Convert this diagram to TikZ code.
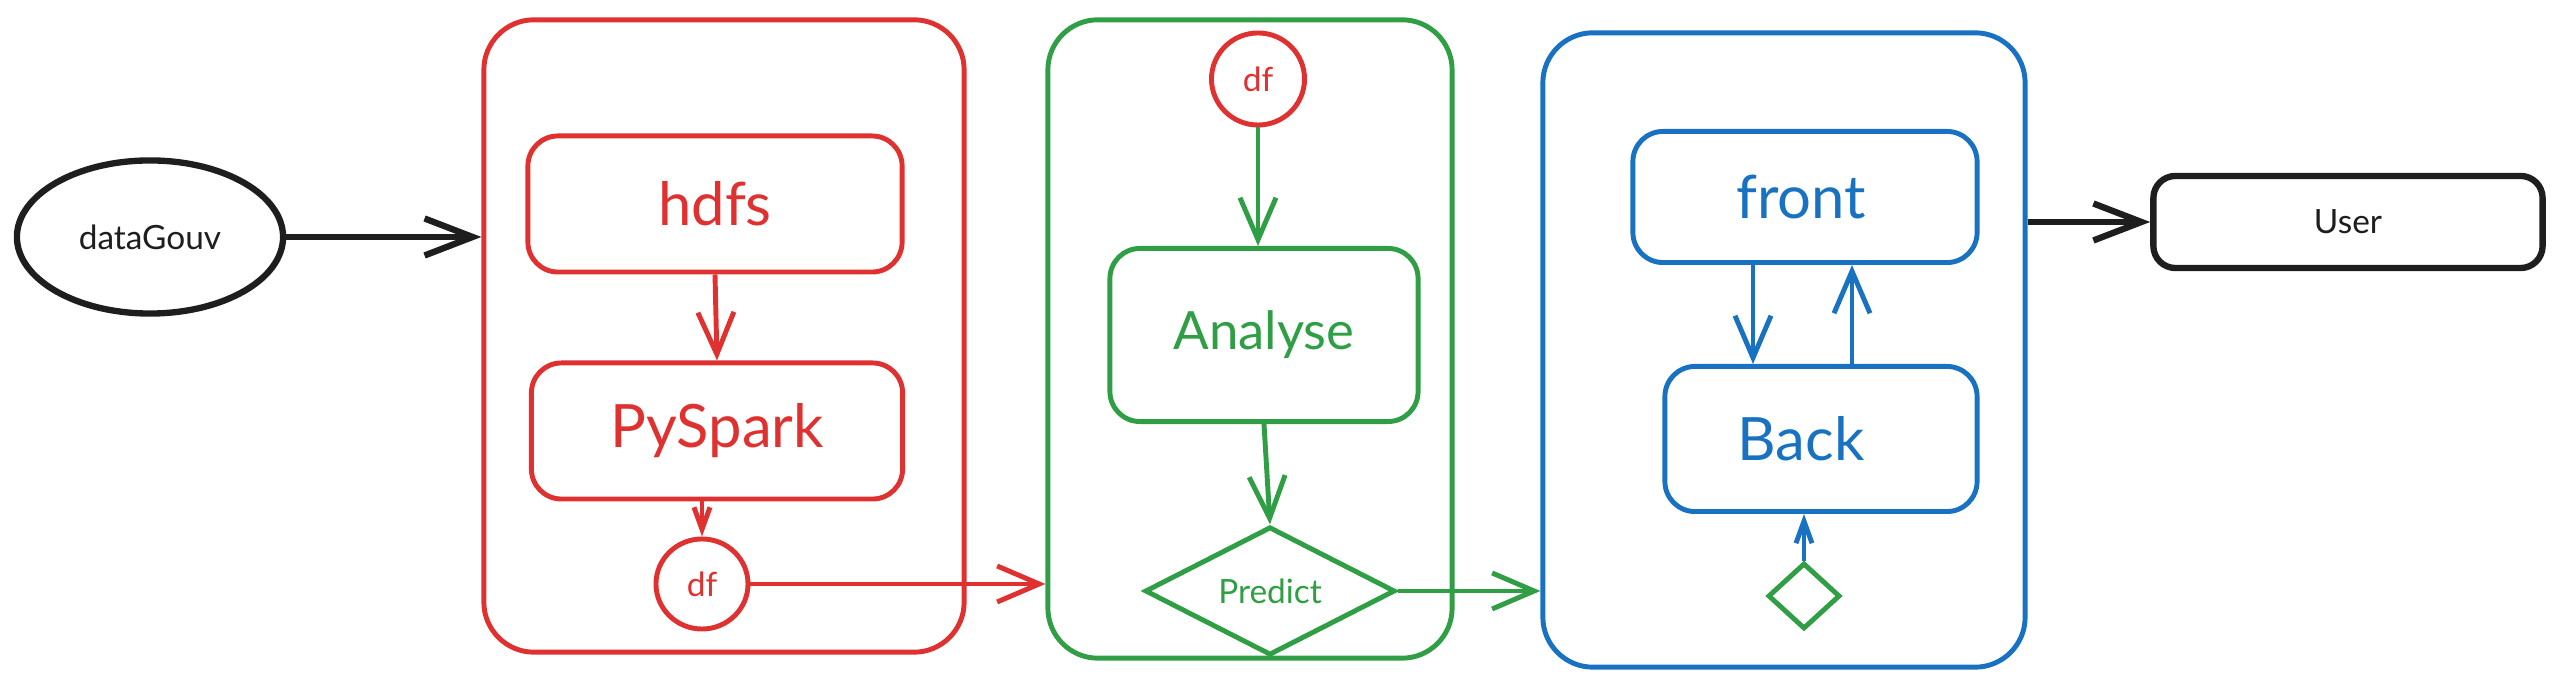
\documentclass[tikz,border=0pt]{standalone}
\usepackage{fontspec}
\setmainfont{Lato}
\usetikzlibrary{arrows.meta,shapes.geometric,calc}
\definecolor{exred}{HTML}{E03131}
\definecolor{exgreen}{HTML}{2F9E44}
\definecolor{exblue}{HTML}{1971C2}
\definecolor{exblack}{HTML}{1E1E1E}
\begin{document}
\begin{tikzpicture}[x=0.01cm,y=-0.01cm,
  outerbox/.style={draw, line width=1.4pt, rounded corners=0.5cm, inner sep=0pt},
  innerbox/.style={draw, line width=1.4pt, rounded corners=0.3cm, inner sep=0pt},
  blackbox/.style={draw=exblack, text=exblack, line width=1.8pt, inner sep=0pt},
  bigtext/.style={font=\fontsize{17}{20}\selectfont},
  midtext/.style={font=\fontsize{15}{18}\selectfont},
  smalltext/.style={font=\fontsize{9.5}{11}\selectfont},
  dfnode/.style={draw=exred, text=exred, ellipse, line width=1.4pt, inner sep=0pt, smalltext},
  arr/.style={line width=1.4pt, -{Straight Barb[length=0.42cm,width=0.36cm]}},
  smallarr/.style={line width=1.4pt, -{Straight Barb[length=0.22cm,width=0.16cm]}},
  blackarr/.style={draw=exblack, line width=1.8pt, -{Straight Barb[length=0.48cm,width=0.37cm]}}
]
\useasboundingbox (0,0) rectangle (2562,686);

% outer containers
\node[outerbox, draw=exred, minimum width=4.8cm, minimum height=6.32cm] (red) at (724,336) {};
\node[outerbox, draw=exgreen, minimum width=4.04cm, minimum height=6.38cm] (green) at (1250,339) {};
\node[outerbox, draw=exblue, minimum width=4.82cm, minimum height=6.34cm] (blue) at (1784,350) {};

% left and right
\node[blackbox, ellipse, minimum width=2.66cm, minimum height=1.53cm, smalltext] (dg) at (150,237) {dataGouv};
\node[blackbox, rounded corners=0.22cm, minimum width=3.89cm, minimum height=0.92cm, smalltext] (user) at (2348,222) {User};

% red container
\node[innerbox, draw=exred, text=exred, minimum width=3.74cm, minimum height=1.36cm, bigtext] (hdfs) at (715,204) {hdfs};
\node[innerbox, draw=exred, text=exred, minimum width=3.71cm, minimum height=1.36cm, bigtext] (spark) at (717,431) {PySpark};
\node[dfnode, minimum width=0.92cm, minimum height=0.90cm] (df1) at (702,584) {df};

% green container
\node[dfnode, minimum width=0.93cm, minimum height=0.92cm] (df2) at (1258,79) {df};
\node[innerbox, draw=exgreen, text=exgreen, minimum width=3.08cm, minimum height=1.73cm, midtext] (analyse) at (1264,335) {Analyse};
\node[draw=exgreen, text=exgreen, diamond, line width=1.4pt, inner sep=0pt, minimum width=2.5cm, minimum height=1.14cm, smalltext] (predict) at (1270,591) {Predict};

% blue container
\node[innerbox, draw=exblue, minimum width=3.44cm, minimum height=1.31cm] (front) at (1805,197) {};
\node[text=exblue, bigtext] (frontlabel) at (1801,197) {front};
\node[innerbox, draw=exblue, minimum width=3.12cm, minimum height=1.45cm] (back) at (1821,439) {};
\node[text=exblue, bigtext] (backlabel) at (1801,439) {Back};
\node[draw=exgreen, diamond, line width=1.4pt, inner sep=0pt, minimum width=0.72cm, minimum height=0.66cm] (sd) at (1804,596) {};

% connectors
\draw[blackarr] (dg.east) -- (dg.east -| red.west);
\draw[arr, exred] (hdfs.south) -- (spark.north);
\draw[smallarr, exred] (spark.south -| df1.north) -- (df1.north);
\draw[arr, exred] (df1.east) -- (df1.east -| green.west);
\draw[arr, exgreen] (df2.south) -- (df2.south |- analyse.north);
\draw[arr, exgreen] (analyse.south) -- (predict.north);
\draw[arr, exgreen] (predict.east) -- (predict.east -| blue.west);
\coordinate (fb1) at (1753,0);
\coordinate (fb2) at (1852,0);
\draw[arr, exblue] (fb1 |- front.south) -- (fb1 |- back.north);
\draw[arr, exblue] (fb2 |- back.north) -- (fb2 |- front.south);
\draw[smallarr, exblue] (sd.north) -- (sd.north |- back.south);
\draw[blackarr] (blue.east |- user.west) -- (user.west);
\end{tikzpicture}
\end{document}
